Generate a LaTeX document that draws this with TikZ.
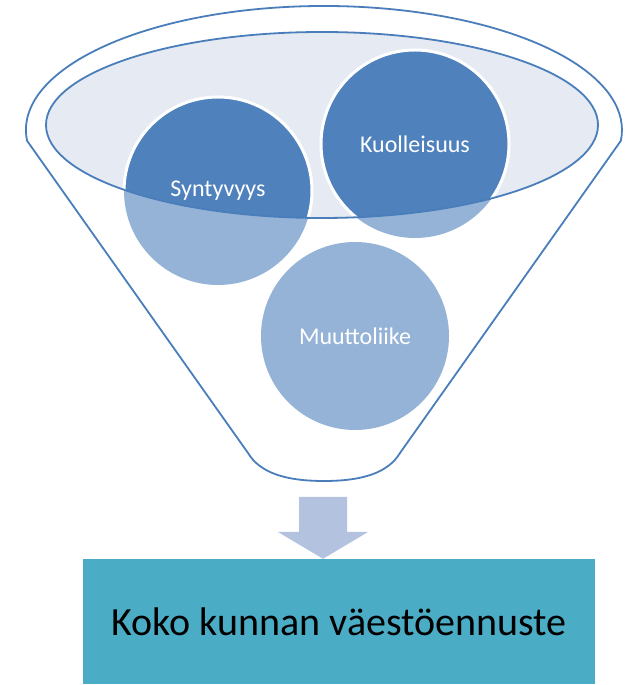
\documentclass[tikz,border=0pt]{standalone}
\usepackage{fontspec}
\setmainfont{Carlito}
\definecolor{dark}{HTML}{4F81BD}
\definecolor{light}{HTML}{95B3D7}
\definecolor{rim}{HTML}{4A7EBB}
\definecolor{liquid}{HTML}{E5EAF3}
\definecolor{arrowc}{HTML}{B3C3DF}
\definecolor{boxc}{HTML}{4BACC6}
\begin{document}
\begin{tikzpicture}[x=1pt,y=1pt,
  ball/.style={circle,minimum size=188pt,inner sep=0pt,fill=light,text=white,font=\fontsize{24}{28}\selectfont},
  result/.style={rectangle,minimum width=512pt,minimum height=125pt,inner sep=0pt,fill=boxc,font=\fontsize{40}{46}\selectfont}]
\useasboundingbox (0,0) rectangle (633,685);
% liquid surface
\fill[liquid] (322,560) ellipse[x radius=276,y radius=93];
% balls (light part)
\node[ball] (s) at (218,494) {};
\node[ball] (k) at (415,541) {};
\node[ball] (m) at (355,349) {};
% dark part inside the liquid surface
\begin{scope}
  \clip (322,560) ellipse[x radius=276,y radius=93];
  \fill[dark] (s.center) circle[radius=94];
  \fill[dark] (k.center) circle[radius=94];
  \draw[white,line width=3pt] (s.center) circle[radius=94];
  \draw[white,line width=3pt] (k.center) circle[radius=94];
\end{scope}
\node[text=white,font=\fontsize{24}{28}\selectfont] at (s.center) {Syntyvyys};
\node[text=white,font=\fontsize{24}{28}\selectfont] at (k.center) {Kuolleisuus};
\node[text=white,font=\fontsize{24}{28}\selectfont] at (m.center) {Muuttoliike};
% liquid rim
\draw[rim,line width=1.8pt] (322,560) ellipse[x radius=276,y radius=93];
% funnel outline
\draw[rim,line width=1.8pt]
  (27.1,544.2) arc[start angle=185,end angle=-5,x radius=298,y radius=124]
  -- (400,232) .. controls (388,212) and (362,204) .. (324,204)
  .. controls (286,204) and (260,212) .. (248,232) -- cycle;
% result box
\node[result] (r) at (339,63.5) {Koko kunnan väestöennuste};
% block arrow
\fill[arrowc] (299,188) -- (347,188) -- (347,153) -- (368,153) -- (r.north -| 323,0) -- (278,153) -- (299,153) -- cycle;
\end{tikzpicture}
\end{document}
